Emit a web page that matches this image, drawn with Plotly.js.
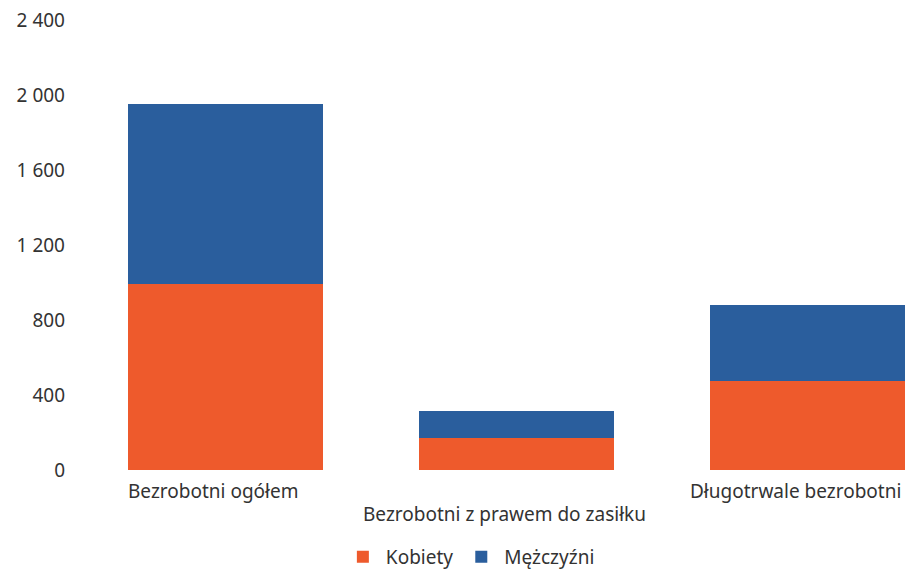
<!DOCTYPE html>
<html>
<head>
<meta charset="utf-8">
<script src="https://cdn.plot.ly/plotly-3.0.1.min.js"></script>
<style>html,body{margin:0;padding:0;background:#fff;}#chart{width:906px;height:572px;}</style>
</head>
<body>
<div id="chart"></div>
<script>
const categories = ["Bezrobotni ogółem", "Bezrobotni z prawem do zasiłku", "Długotrwale bezrobotni"];
const kobiety = [992, 171, 475];
const mezczyzni = [960, 144, 405];
const yTickVals = [0, 400, 800, 1200, 1600, 2000, 2400];
const yTickText = ["0", "400", "800", "1 200", "1 600", "2 000", "2 400"];
const labelRows = [0, 1, 0];

const font = {family: "Noto Sans, Open Sans, sans-serif", size: 19, color: "#333333"};

const traces = [
  {type: "bar", name: "Kobiety", x: categories, y: kobiety,
   marker: {color: "#EE5A2C", line: {width: 0}}, width: 0.67},
  {type: "bar", name: "Mężczyźni", x: categories, y: mezczyzni,
   marker: {color: "#2A5E9D", line: {width: 0}}, width: 0.67}
];

const annotations = categories.map((c, i) => ({
  x: c, xref: "x", y: labelRows[i] ? -0.098 : -0.047, yref: "paper",
  text: c, showarrow: false, xanchor: "center", yanchor: "middle",
  xshift: -12, font: font
}));

const layout = {
  width: 906, height: 572,
  margin: {l: 80, r: 0, t: 20, b: 102, autoexpand: false},
  barmode: "stack",
  paper_bgcolor: "#fff", plot_bgcolor: "#fff",
  font: font,
  xaxis: {type: "category", range: [-0.5, 2.34], showticklabels: false,
          showgrid: false, zeroline: false, showline: false, ticks: ""},
  yaxis: {range: [0, 2400], tickvals: yTickVals, ticktext: yTickText,
          showgrid: false, zeroline: false, showline: false, ticks: "",
          ticklabelstandoff: 14, tickfont: font},
  showlegend: true,
  legend: {orientation: "h", x: 0.472, xanchor: "center", y: -0.193, yanchor: "middle",
           font: font, traceorder: "normal", itemwidth: 36},
  annotations: annotations
};

Plotly.newPlot("chart", traces, layout, {displayModeBar: false, staticPlot: true});
</script>
</body>
</html>
